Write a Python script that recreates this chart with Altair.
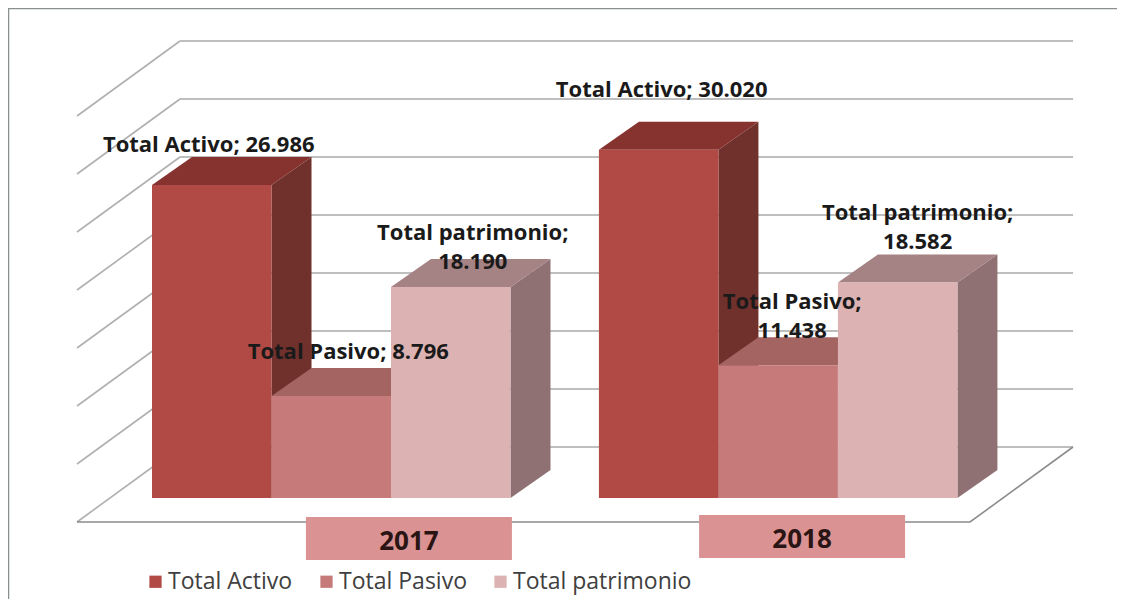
import altair as alt
import pandas as pd

YEARS = ["2017", "2018"]
SERIES = ["Total Activo", "Total Pasivo", "Total patrimonio"]
VALUES = {"2017": [26986, 8796, 18190], "2018": [30020, 11438, 18582]}
VALUE_TEXT = {"2017": ["26.986", "8.796", "18.190"], "2018": ["30.020", "11.438", "18.582"]}
GRID_VALUES = [0, 5000, 10000, 15000, 20000, 25000, 30000, 35000]

FRONT = ["#b14a45", "#c67a7a", "#dcb3b2"]
SIDE = ["#70302c", "#8a4f4f", "#8f7173"]
TOP = ["#86332f", "#a46462", "#a58284"]

W, H = 1109, 591
PX_PER_UNIT = 0.0116          # pixels per value unit
BAR_W = 119.5                 # pixels per x unit
ORIGIN_X = 144                # chart px of x unit 0
WALL_Y = 439                  # chart px of value 0 on the back wall
FRONT_DROP = 51 / PX_PER_UNIT # bars' front sits lower than the wall
DEPTH_X = 40 / BAR_W
DEPTH_Y = 28 / PX_PER_UNIT
DIAG_X = 103 / BAR_W
DIAG_Y = 75 / PX_PER_UNIT
GROUP_START = {"2017": 0.0, "2018": 3.74}

x_scale = alt.Scale(domain=[-ORIGIN_X / BAR_W, (W - ORIGIN_X) / BAR_W], range=[0, W], nice=False, zero=False)
y_scale = alt.Scale(domain=[(WALL_Y - H) / PX_PER_UNIT, WALL_Y / PX_PER_UNIT], range=[H, 0], nice=False, zero=False)
X_MIN, X_MAX = -ORIGIN_X / BAR_W, (W - ORIGIN_X) / BAR_W
Y_MIN, Y_MAX = (WALL_Y - H) / PX_PER_UNIT, WALL_Y / PX_PER_UNIT


def X(f="x"):
    return alt.X(f"{f}:Q", scale=x_scale, axis=None, title=None)


def Y(f="y"):
    return alt.Y(f"{f}:Q", scale=y_scale, axis=None, title=None)


layers = []
GRID_L = 28 / BAR_W
GRID_R = 921 / BAR_W

# back-wall gridlines and left-wall diagonals
grid = pd.DataFrame({"x": [GRID_L] * 8, "x2": [GRID_R] * 8, "y": GRID_VALUES})
layers.append(alt.Chart(grid).mark_rule(color="#a9a9a9", strokeWidth=1.6).encode(x=X(), x2="x2:Q", y=Y()))
diag_rows = []
for v in GRID_VALUES:
    diag_rows += [{"g": v, "o": 0, "x": GRID_L, "y": v}, {"g": v, "o": 1, "x": GRID_L - DIAG_X, "y": v - DIAG_Y}]
layers.append(alt.Chart(pd.DataFrame(diag_rows)).mark_line(color="#b0b0b0", strokeWidth=1.6).encode(
    x=X(), y=Y(), detail="g:N", order="o:Q"))
floor = pd.DataFrame({
    "o": [0, 1, 2],
    "x": [GRID_L - DIAG_X, GRID_R - DIAG_X, GRID_R],
    "y": [-DIAG_Y, -DIAG_Y, 0],
})
layers.append(alt.Chart(floor).mark_line(color="#8c8c8c", strokeWidth=1.6).encode(x=X(), y=Y(), order="o:Q"))

legend = alt.Legend(
    orient="none", legendX=136, legendY=562, direction="horizontal", columns=3, title=None,
    symbolType="square", symbolSize=150, symbolStrokeWidth=0, labelFont="Open Sans", labelFontSize=23,
    labelColor="#404040", labelOffset=1, columnPadding=22, labelLimit=300, rowPadding=0, padding=0,
)

# bars, drawn back to front inside each group
for year in YEARS:
    for i, (name, val) in enumerate(zip(SERIES, VALUES[year])):
        left = GROUP_START[year] + i
        right = left + 1
        base = -FRONT_DROP
        top = val - FRONT_DROP
        side = pd.DataFrame({
            "x": [right, right + DEPTH_X],
            "y": [top, top + DEPTH_Y],
            "y2": [base, base + DEPTH_Y],
        })
        layers.append(alt.Chart(side).mark_area(color=SIDE[i], orient="vertical").encode(x=X(), y=Y(), y2="y2:Q"))
        roof = pd.DataFrame({
            "y": [top, top + DEPTH_Y],
            "x": [left, left + DEPTH_X],
            "x2": [right, right + DEPTH_X],
        })
        layers.append(alt.Chart(roof).mark_area(color=TOP[i], orient="horizontal").encode(y=Y(), x=X(), x2="x2:Q"))
        front = pd.DataFrame({"x": [left], "x2": [right], "y": [top], "y2": [base], "serie": [name]})
        layers.append(alt.Chart(front).mark_rect().encode(
            x=X(), x2="x2:Q", y=Y(), y2="y2:Q",
            color=alt.Color("serie:N", scale=alt.Scale(domain=SERIES, range=FRONT), legend=legend),
        ))

# category boxes
CAT_CENTER = {"2017": 2.15, "2018": 5.44}
CAT_Y = {"2017": -7888, "2018": -7716}
CAT_HALF_W = 103 / BAR_W
CAT_HALF_H = 21.5 / PX_PER_UNIT
for year in YEARS:
    box = pd.DataFrame({
        "x": [CAT_CENTER[year] - CAT_HALF_W], "x2": [CAT_CENTER[year] + CAT_HALF_W],
        "y": [CAT_Y[year] - CAT_HALF_H], "y2": [CAT_Y[year] + CAT_HALF_H],
    })
    layers.append(alt.Chart(box).mark_rect(color="#da9392").encode(x=X(), x2="x2:Q", y=Y(), y2="y2:Q"))
    lab = pd.DataFrame({"x": [CAT_CENTER[year]], "y": [CAT_Y[year]], "t": [year]})
    layers.append(alt.Chart(lab).mark_text(
        font="Open Sans", fontWeight="bold", fontSize=26, color="#2a1414", baseline="middle", dy=3,
    ).encode(x=X(), y=Y(), text="t:N"))

# data labels: (year, series index, two lines?, dx, dy)
LABEL_LAYOUT = [
    ("2017", 0, False, -3, -40),
    ("2017", 1, False, 17, -44),
    ("2017", 2, True, 22, -54),
    ("2018", 0, False, 3, -60),
    ("2018", 1, True, 14, -63),
    ("2018", 2, True, 20, -69),
]
for year, i, wrap, dx, dy in LABEL_LAYOUT:
    sep = ";\n" if wrap else "; "
    txt = SERIES[i] + sep + VALUE_TEXT[year][i]
    d = pd.DataFrame({
        "x": [GROUP_START[year] + i + 0.5],
        "y": [VALUES[year][i] - FRONT_DROP],
        "t": [txt],
    })
    layers.append(alt.Chart(d).mark_text(
        font="Open Sans", fontWeight="bold", fontSize=22, color="#1a1a1a", baseline="middle",
        lineBreak="\n", lineHeight=29, dx=dx, dy=dy,
    ).encode(x=X(), y=Y(), text="t:N"))

# slide frame
frame_top = pd.DataFrame({"x": [X_MIN], "x2": [X_MAX], "y": [(WALL_Y - 0.5) / PX_PER_UNIT]})
layers.append(alt.Chart(frame_top).mark_rule(color="#8a8f90", strokeWidth=1.5).encode(x=X(), x2="x2:Q", y=Y()))
frame_left = pd.DataFrame({"x": [X_MIN + 0.5 / BAR_W], "y": [Y_MIN], "y2": [Y_MAX]})
layers.append(alt.Chart(frame_left).mark_rule(color="#8a8f90", strokeWidth=1.5).encode(x=X(), y=Y(), y2="y2:Q"))

chart = alt.layer(*layers).properties(
    width=W, height=H, padding=0, autosize=alt.AutoSizeParams(type="none"), background="white",
).configure_view(stroke=None)

chart.save("out.html", embed_options={"renderer": "svg", "actions": False})
